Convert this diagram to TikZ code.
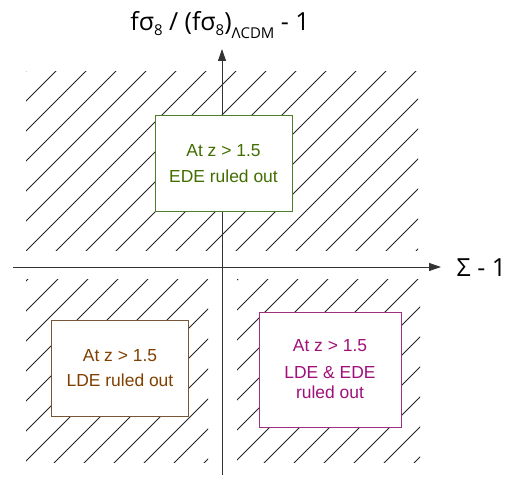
\documentclass[tikz,border=0pt]{standalone}
\usepackage{fontspec}
\setmainfont{Liberation Sans}
\newfontfamily\labelfont{Open Sans}
\usetikzlibrary{arrows.meta}
\definecolor{edeborder}{HTML}{507C2A}
\definecolor{edetext}{HTML}{426E00}
\definecolor{ldeborder}{HTML}{7A5535}
\definecolor{ldetext}{HTML}{804000}
\definecolor{bothborder}{HTML}{A0307F}
\definecolor{bothtext}{HTML}{A0107A}
\definecolor{axiscol}{HTML}{333333}
\tikzset{
  hatchline/.style={draw=black!85, line width=0.8bp},
  axisline/.style={draw=axiscol, line width=0.9bp},
  axisarrow/.style={axisline, -{Triangle[length=12bp,width=8bp]}},
  infobox/.style={draw, fill=white, line width=1bp, align=center, inner sep=0pt,
    font=\fontsize{17.5}{20}\selectfont},
  axislabel/.style={inner sep=0pt, font=\labelfont\fontsize{25}{28}\selectfont}
}
\newcommand{\hatchregion}[4]{%
  \begin{scope}
    \clip (#1,#2) rectangle (#3,#4);
    \foreach \k in {-20,...,20}{
      \draw[hatchline] ({17+30*\k},500) -- ++(500,-500);
    }
  \end{scope}}
\begin{document}
\begin{tikzpicture}[x=1bp,y=-1bp]
\useasboundingbox (0,0) rectangle (530,489);
% hatched regions
\hatchregion{26}{72}{418}{250}
\hatchregion{26}{279}{208}{462}
\hatchregion{237}{279}{420}{462}
% axes
\coordinate (xs) at (13.3,267);
\coordinate (xe) at (441,267);
\coordinate (ys) at (222,475);
\coordinate (ye) at (222,49);
\draw[axisarrow] (xs) -- (xe);
\draw[axisarrow] (ys) -- (ye);
% axis labels
\node[axislabel, anchor=base] (ylab) at (220,31)
  {fσ\raisebox{-0.2em}{\fontsize{15}{15}\selectfont 8} / (fσ\raisebox{-0.2em}{\fontsize{15}{15}\selectfont 8})\raisebox{-0.3em}{\fontsize{15}{15}\selectfont ΛCDM} - 1};
\node[axislabel, anchor=base west] (xlab) at (456.5,276.7) {Σ - 1};
% boxes
\node[infobox, draw=edeborder, text=edetext, minimum width=137bp, minimum height=95bp]
  (ede) at (223.5,163.5) {At z > 1.5\\[6bp]EDE ruled out};
\node[infobox, draw=ldeborder, text=ldetext, minimum width=136.6bp, minimum height=96bp]
  (lde) at (120,368) {At z > 1.5\\[5bp]LDE ruled out};
\node[infobox, draw=bothborder, text=bothtext, minimum width=142bp, minimum height=115bp]
  (both) at (330,369.5) {At z > 1.5\\[7bp]LDE \& EDE\\ruled out};
\end{tikzpicture}
\end{document}
